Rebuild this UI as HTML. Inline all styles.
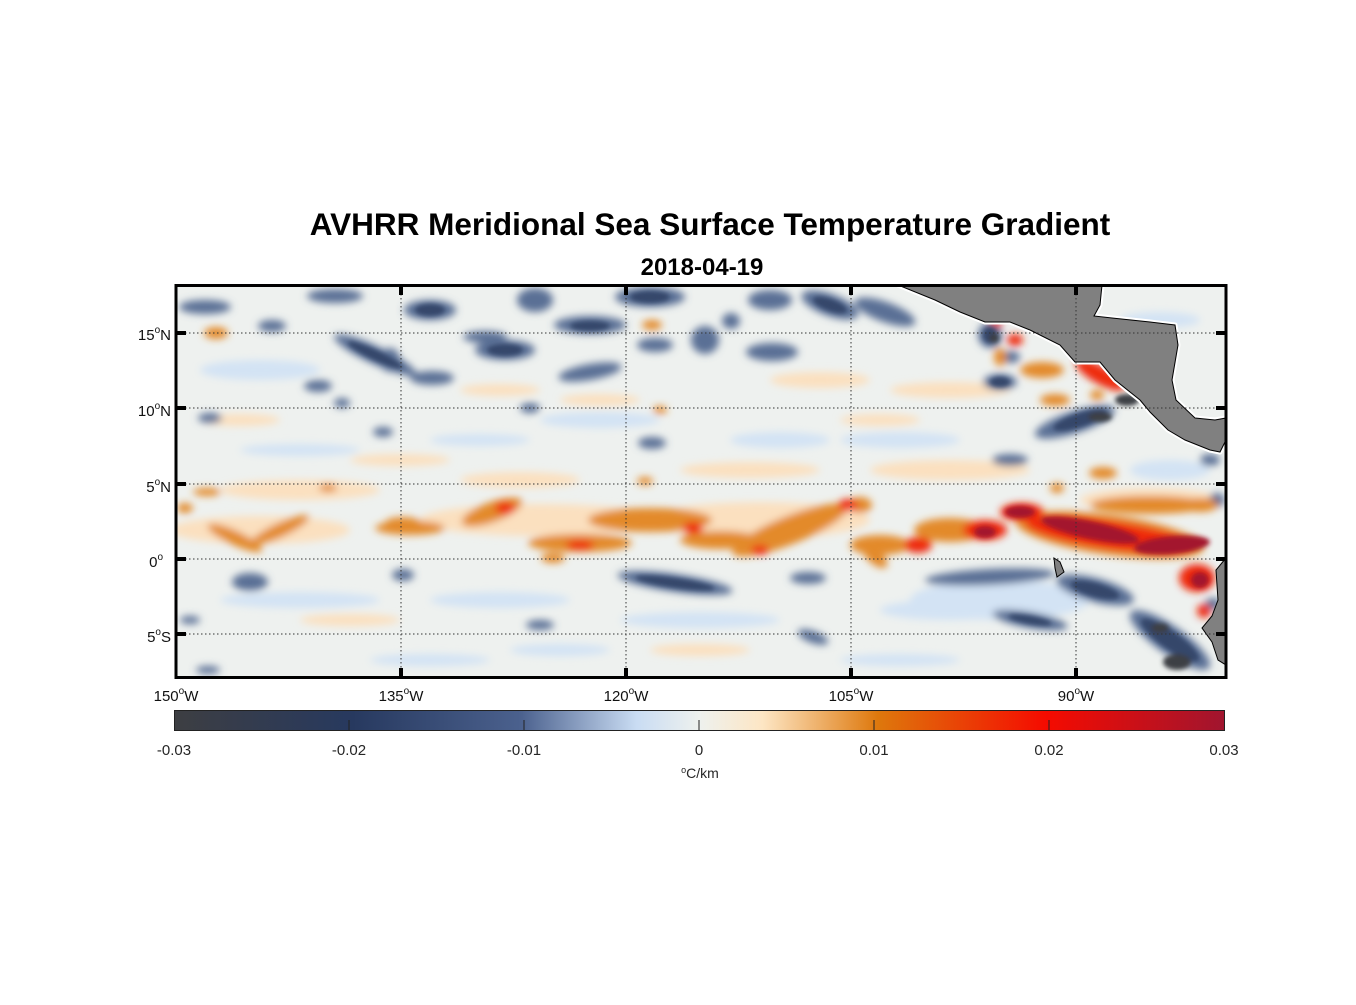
<!DOCTYPE html>
<html><head><style>
body{margin:0;background:#fff;width:1356px;height:1000px;overflow:hidden;font-family:"Liberation Sans",Arial,sans-serif}
</style></head><body>
<svg width="1356" height="1000" viewBox="0 0 1356 1000" xmlns="http://www.w3.org/2000/svg" font-family="Liberation Sans, Arial, sans-serif">
<defs>
<filter id="b" x="-50%" y="-50%" width="200%" height="200%"><feGaussianBlur stdDeviation="4"/></filter>
<filter id="b2" x="-50%" y="-50%" width="200%" height="200%"><feGaussianBlur stdDeviation="2.5"/></filter>
<clipPath id="c"><rect x="177" y="286" width="1048" height="391"/></clipPath>
<linearGradient id="cb" x1="0" x2="1" y1="0" y2="0">
<stop offset="0" stop-color="#3d3e42"/><stop offset="0.17" stop-color="#27395f"/>
<stop offset="0.33" stop-color="#4b618e"/><stop offset="0.44" stop-color="#c9dcf3"/>
<stop offset="0.5" stop-color="#eef1ee"/><stop offset="0.56" stop-color="#fde6c4"/>
<stop offset="0.67" stop-color="#de780c"/><stop offset="0.83" stop-color="#f50b00"/>
<stop offset="1" stop-color="#a0152f"/></linearGradient>
</defs>
<text x="710" y="235" text-anchor="middle" font-size="31.5" font-weight="bold">AVHRR Meridional Sea Surface Temperature Gradient</text>
<text x="702" y="275" text-anchor="middle" font-size="24" font-weight="bold">2018-04-19</text>
<g clip-path="url(#c)">
<rect x="176" y="285" width="1050" height="393" fill="#eef1ef"/>
<g filter="url(#b)">
<g fill="#d3e3f4">
<ellipse cx="260" cy="370" rx="60" ry="10"/><ellipse cx="300" cy="600" rx="80" ry="8"/><ellipse cx="500" cy="600" rx="70" ry="8"/>
<ellipse cx="700" cy="620" rx="80" ry="8"/><ellipse cx="950" cy="610" rx="70" ry="10"/><ellipse cx="600" cy="420" rx="60" ry="8"/>
<ellipse cx="900" cy="440" rx="60" ry="8"/><ellipse cx="1000" cy="600" rx="90" ry="20"/><ellipse cx="1170" cy="470" rx="40" ry="10"/>
<ellipse cx="430" cy="660" rx="60" ry="6"/><ellipse cx="780" cy="440" rx="50" ry="8"/>
<ellipse cx="300" cy="450" rx="60" ry="6"/><ellipse cx="480" cy="440" rx="50" ry="6"/><ellipse cx="1160" cy="320" rx="40" ry="8"/>
<ellipse cx="560" cy="650" rx="50" ry="6"/><ellipse cx="900" cy="660" rx="60" ry="6"/>
</g>
<g fill="#fbe0bf">
<ellipse cx="300" cy="490" rx="80" ry="10"/><ellipse cx="520" cy="480" rx="60" ry="8"/><ellipse cx="750" cy="470" rx="70" ry="8"/>
<ellipse cx="950" cy="470" rx="80" ry="10"/><ellipse cx="350" cy="620" rx="50" ry="6"/><ellipse cx="600" cy="400" rx="40" ry="6"/>
<ellipse cx="820" cy="380" rx="50" ry="8"/><ellipse cx="950" cy="390" rx="60" ry="8"/>
<ellipse cx="240" cy="420" rx="40" ry="6"/><ellipse cx="700" cy="650" rx="50" ry="6"/><ellipse cx="1150" cy="500" rx="70" ry="12"/>
<ellipse cx="540" cy="520" rx="120" ry="16"/><ellipse cx="760" cy="520" rx="110" ry="18"/><ellipse cx="260" cy="530" rx="90" ry="14"/>
<ellipse cx="400" cy="460" rx="50" ry="6"/><ellipse cx="880" cy="420" rx="40" ry="6"/><ellipse cx="500" cy="390" rx="40" ry="6"/>
</g>
<g fill="#5a6f95">
<ellipse cx="205" cy="307" rx="26" ry="7"/><ellipse cx="272" cy="326" rx="14" ry="6"/><ellipse cx="335" cy="296" rx="28" ry="7"/>
<ellipse cx="375" cy="355" rx="45" ry="9" transform="rotate(25 375 355)"/><ellipse cx="318" cy="386" rx="14" ry="6"/>
<ellipse cx="210" cy="418" rx="12" ry="5"/><ellipse cx="383" cy="432" rx="10" ry="5"/><ellipse cx="342" cy="403" rx="8" ry="5"/>
<ellipse cx="250" cy="582" rx="18" ry="9"/><ellipse cx="403" cy="575" rx="11" ry="6"/><ellipse cx="190" cy="620" rx="10" ry="4"/>
<ellipse cx="208" cy="670" rx="12" ry="4"/>
<ellipse cx="430" cy="310" rx="26" ry="10"/><ellipse cx="505" cy="350" rx="30" ry="10"/><ellipse cx="535" cy="300" rx="18" ry="12"/>
<ellipse cx="590" cy="325" rx="36" ry="9"/><ellipse cx="485" cy="337" rx="22" ry="6"/><ellipse cx="390" cy="360" rx="10" ry="12"/>
<ellipse cx="432" cy="378" rx="22" ry="7"/><ellipse cx="590" cy="372" rx="32" ry="8" transform="rotate(-10 590 372)"/>
<ellipse cx="650" cy="297" rx="35" ry="10"/><ellipse cx="655" cy="345" rx="18" ry="7"/><ellipse cx="705" cy="340" rx="14" ry="14"/>
<ellipse cx="772" cy="352" rx="26" ry="9"/><ellipse cx="731" cy="321" rx="9" ry="8"/><ellipse cx="770" cy="300" rx="22" ry="10"/>
<ellipse cx="830" cy="305" rx="30" ry="11" transform="rotate(20 830 305)"/><ellipse cx="652" cy="443" rx="14" ry="6"/>
<ellipse cx="530" cy="408" rx="10" ry="5"/><ellipse cx="675" cy="583" rx="58" ry="9" transform="rotate(8 675 583)"/>
<ellipse cx="808" cy="578" rx="18" ry="6"/><ellipse cx="540" cy="625" rx="14" ry="5"/><ellipse cx="813" cy="637" rx="16" ry="6" transform="rotate(20 813 637)"/>
<ellipse cx="885" cy="312" rx="32" ry="10" transform="rotate(20 885 312)"/><ellipse cx="990" cy="335" rx="12" ry="13"/>
<ellipse cx="1011" cy="357" rx="9" ry="6"/><ellipse cx="1000" cy="382" rx="17" ry="8"/>
<ellipse cx="1075" cy="422" rx="42" ry="11" transform="rotate(-18 1075 422)"/><ellipse cx="1010" cy="460" rx="18" ry="6"/>
<ellipse cx="990" cy="577" rx="65" ry="8" transform="rotate(-3 990 577)"/><ellipse cx="1095" cy="590" rx="40" ry="12" transform="rotate(15 1095 590)"/>
<ellipse cx="1030" cy="620" rx="38" ry="8" transform="rotate(10 1030 620)"/><ellipse cx="1170" cy="640" rx="48" ry="14" transform="rotate(35 1170 640)"/>
<ellipse cx="1210" cy="460" rx="10" ry="6"/><ellipse cx="1217" cy="500" rx="8" ry="7"/><ellipse cx="1213" cy="604" rx="8" ry="6"/>
</g>
<g fill="#e38a2a">
<ellipse cx="235" cy="538" rx="30" ry="7" transform="rotate(25 235 538)"/><ellipse cx="280" cy="530" rx="32" ry="7" transform="rotate(-25 280 530)"/>
<ellipse cx="403" cy="523" rx="18" ry="6"/><ellipse cx="207" cy="492" rx="14" ry="4"/><ellipse cx="328" cy="488" rx="9" ry="4"/>
<ellipse cx="185" cy="508" rx="8" ry="5"/><ellipse cx="216" cy="333" rx="12" ry="6"/>
<ellipse cx="410" cy="528" rx="35" ry="7"/><ellipse cx="492" cy="512" rx="32" ry="10" transform="rotate(-20 492 512)"/>
<ellipse cx="580" cy="543" rx="52" ry="9"/><ellipse cx="553" cy="558" rx="12" ry="5"/><ellipse cx="650" cy="520" rx="62" ry="12"/>
<ellipse cx="790" cy="530" rx="62" ry="14" transform="rotate(-22 790 530)"/><ellipse cx="720" cy="540" rx="40" ry="9"/>
<ellipse cx="652" cy="325" rx="10" ry="5"/><ellipse cx="645" cy="481" rx="8" ry="4"/><ellipse cx="660" cy="410" rx="7" ry="4"/>
<ellipse cx="1000" cy="357" rx="6" ry="9"/><ellipse cx="1042" cy="370" rx="22" ry="8"/><ellipse cx="1055" cy="400" rx="15" ry="6"/>
<ellipse cx="1097" cy="395" rx="7" ry="5"/><ellipse cx="1103" cy="473" rx="14" ry="6"/><ellipse cx="1057" cy="488" rx="7" ry="5"/>
<ellipse cx="1200" cy="505" rx="18" ry="7"/><ellipse cx="860" cy="505" rx="12" ry="8"/>
<ellipse cx="880" cy="545" rx="30" ry="10"/><ellipse cx="950" cy="530" rx="36" ry="12"/><ellipse cx="875" cy="557" rx="15" ry="7" transform="rotate(40 875 557)"/>
<ellipse cx="1150" cy="505" rx="60" ry="9"/><ellipse cx="1110" cy="535" rx="95" ry="20" transform="rotate(8 1110 535)"/>
</g>
<g fill="#ee2a0c">
<ellipse cx="505" cy="508" rx="10" ry="6"/><ellipse cx="580" cy="545" rx="14" ry="5"/><ellipse cx="693" cy="528" rx="10" ry="6"/>
<ellipse cx="760" cy="550" rx="9" ry="5"/><ellipse cx="848" cy="505" rx="10" ry="6"/><ellipse cx="918" cy="545" rx="14" ry="8"/>
<ellipse cx="996" cy="324" rx="6" ry="4"/><ellipse cx="1015" cy="340" rx="8" ry="6"/><ellipse cx="1100" cy="375" rx="28" ry="9" transform="rotate(30 1100 375)"/>
<ellipse cx="1110" cy="535" rx="85" ry="14" transform="rotate(8 1110 535)"/><ellipse cx="985" cy="530" rx="22" ry="10"/>
<ellipse cx="1022" cy="512" rx="22" ry="9"/><ellipse cx="1197" cy="578" rx="18" ry="14"/><ellipse cx="1204" cy="611" rx="7" ry="7"/>
</g>
</g>
<g filter="url(#b2)">
<g fill="#34466b">
<ellipse cx="375" cy="355" rx="30" ry="5" transform="rotate(25 375 355)"/><ellipse cx="430" cy="310" rx="15" ry="6"/>
<ellipse cx="505" cy="350" rx="18" ry="6"/><ellipse cx="590" cy="326" rx="20" ry="5"/><ellipse cx="650" cy="297" rx="20" ry="6"/>
<ellipse cx="675" cy="583" rx="40" ry="5" transform="rotate(8 675 583)"/><ellipse cx="830" cy="305" rx="18" ry="6" transform="rotate(20 830 305)"/>
<ellipse cx="1080" cy="420" rx="28" ry="7" transform="rotate(-18 1080 420)"/><ellipse cx="990" cy="335" rx="7" ry="8"/>
<ellipse cx="1000" cy="382" rx="10" ry="5"/><ellipse cx="1170" cy="640" rx="35" ry="9" transform="rotate(35 1170 640)"/>
<ellipse cx="1095" cy="590" rx="25" ry="7" transform="rotate(15 1095 590)"/><ellipse cx="1030" cy="620" rx="22" ry="4" transform="rotate(10 1030 620)"/>
</g>
<g fill="#3e3f45">
<ellipse cx="1127" cy="400" rx="12" ry="6"/><ellipse cx="1100" cy="417" rx="12" ry="5"/><ellipse cx="1177" cy="662" rx="14" ry="8"/>
<ellipse cx="1160" cy="628" rx="9" ry="5"/><ellipse cx="994" cy="338" rx="5" ry="5"/>
</g>
<g fill="#a3182f">
<ellipse cx="1090" cy="530" rx="50" ry="9" transform="rotate(12 1090 530)"/><ellipse cx="1172" cy="545" rx="38" ry="9" transform="rotate(-5 1172 545)"/>
<ellipse cx="1020" cy="512" rx="15" ry="6"/><ellipse cx="985" cy="532" rx="11" ry="6"/><ellipse cx="1200" cy="580" rx="9" ry="8"/>
</g>
</g>
<path d="M898,285 L1102,285 L1100,305 L1094,316 L1112,318 L1150,322 L1175,325 L1178,345 L1172,380 L1176,400 L1195,418 L1215,420 L1226,418 L1226,440 L1220,452 L1210,450 L1185,440 L1168,430 L1150,412 L1140,400 L1115,380 L1100,362 L1075,362 L1060,345 L1030,330 L1010,322 L985,322 L960,312 L935,300 Z" fill="#808080" stroke="#fff" stroke-width="5" stroke-linejoin="round"/>
<path d="M898,285 L1102,285 L1100,305 L1094,316 L1112,318 L1150,322 L1175,325 L1178,345 L1172,380 L1176,400 L1195,418 L1215,420 L1226,418 L1226,440 L1220,452 L1210,450 L1185,440 L1168,430 L1150,412 L1140,400 L1115,380 L1100,362 L1075,362 L1060,345 L1030,330 L1010,322 L985,322 L960,312 L935,300 Z" fill="#808080" stroke="#000" stroke-width="1"/>
<path d="M1226,558 L1216,570 L1218,600 L1212,616 L1202,628 L1212,642 L1218,660 L1226,665 Z" fill="#808080" stroke="#000" stroke-width="1"/>
<path d="M1054,558 L1060,562 L1064,572 L1057,577 L1055,568 Z" fill="#808080" stroke="#000" stroke-width="1"/>
<g stroke="#333" stroke-width="1" stroke-dasharray="1.5,2.5">
<line x1="401" y1="286" x2="401" y2="677"/><line x1="626" y1="286" x2="626" y2="677"/><line x1="851" y1="286" x2="851" y2="677"/><line x1="1076" y1="286" x2="1076" y2="677"/>
<line x1="177" y1="333" x2="1225" y2="333"/><line x1="177" y1="408" x2="1225" y2="408"/><line x1="177" y1="484" x2="1225" y2="484"/><line x1="177" y1="559" x2="1225" y2="559"/><line x1="177" y1="634" x2="1225" y2="634"/>
</g>
</g>
<rect x="176" y="285.5" width="1050" height="392" fill="none" stroke="#000" stroke-width="3"/>
<g stroke="#000" stroke-width="4">
<line x1="401" y1="286" x2="401" y2="295"/><line x1="626" y1="286" x2="626" y2="295"/><line x1="851" y1="286" x2="851" y2="295"/><line x1="1076" y1="286" x2="1076" y2="295"/>
<line x1="401" y1="668" x2="401" y2="677"/><line x1="626" y1="668" x2="626" y2="677"/><line x1="851" y1="668" x2="851" y2="677"/><line x1="1076" y1="668" x2="1076" y2="677"/>
<line x1="177" y1="333" x2="186" y2="333"/><line x1="177" y1="408" x2="186" y2="408"/><line x1="177" y1="484" x2="186" y2="484"/><line x1="177" y1="559" x2="186" y2="559"/><line x1="177" y1="634" x2="186" y2="634"/>
<line x1="1216" y1="333" x2="1225" y2="333"/><line x1="1216" y1="408" x2="1225" y2="408"/><line x1="1216" y1="484" x2="1225" y2="484"/><line x1="1216" y1="559" x2="1225" y2="559"/><line x1="1216" y1="634" x2="1225" y2="634"/>
</g>
<g font-size="15" fill="#111" text-anchor="end">
<text x="171" y="340">15<tspan font-size="10" dy="-7">o</tspan><tspan dy="7">N</tspan></text>
<text x="171" y="416">10<tspan font-size="10" dy="-7">o</tspan><tspan dy="7">N</tspan></text>
<text x="171" y="492">5<tspan font-size="10" dy="-7">o</tspan><tspan dy="7">N</tspan></text>
<text x="163" y="567">0<tspan font-size="10" dy="-7">o</tspan></text>
<text x="171" y="642">5<tspan font-size="10" dy="-7">o</tspan><tspan dy="7">S</tspan></text>
</g>
<g font-size="15" fill="#111" text-anchor="middle">
<text x="176" y="701">150<tspan font-size="10" dy="-7">o</tspan><tspan dy="7">W</tspan></text>
<text x="401" y="701">135<tspan font-size="10" dy="-7">o</tspan><tspan dy="7">W</tspan></text>
<text x="626" y="701">120<tspan font-size="10" dy="-7">o</tspan><tspan dy="7">W</tspan></text>
<text x="851" y="701">105<tspan font-size="10" dy="-7">o</tspan><tspan dy="7">W</tspan></text>
<text x="1076" y="701">90<tspan font-size="10" dy="-7">o</tspan><tspan dy="7">W</tspan></text>
</g>
<rect x="174.5" y="710.5" width="1050" height="20" fill="url(#cb)" stroke="#222" stroke-width="1"/>
<g stroke="#222" stroke-width="1">
<line x1="349" y1="720" x2="349" y2="730"/><line x1="524" y1="720" x2="524" y2="730"/><line x1="699" y1="720" x2="699" y2="730"/><line x1="874" y1="720" x2="874" y2="730"/><line x1="1049" y1="720" x2="1049" y2="730"/>
</g>
<g font-size="15" fill="#262626" text-anchor="middle">
<text x="174" y="755">-0.03</text><text x="349" y="755">-0.02</text><text x="524" y="755">-0.01</text><text x="699" y="755">0</text>
<text x="874" y="755">0.01</text><text x="1049" y="755">0.02</text><text x="1224" y="755">0.03</text>
<text x="700" y="778" font-size="14"><tspan font-size="9" dy="-5">o</tspan><tspan dy="5">C/km</tspan></text>
</g>
</svg>
</body></html>
